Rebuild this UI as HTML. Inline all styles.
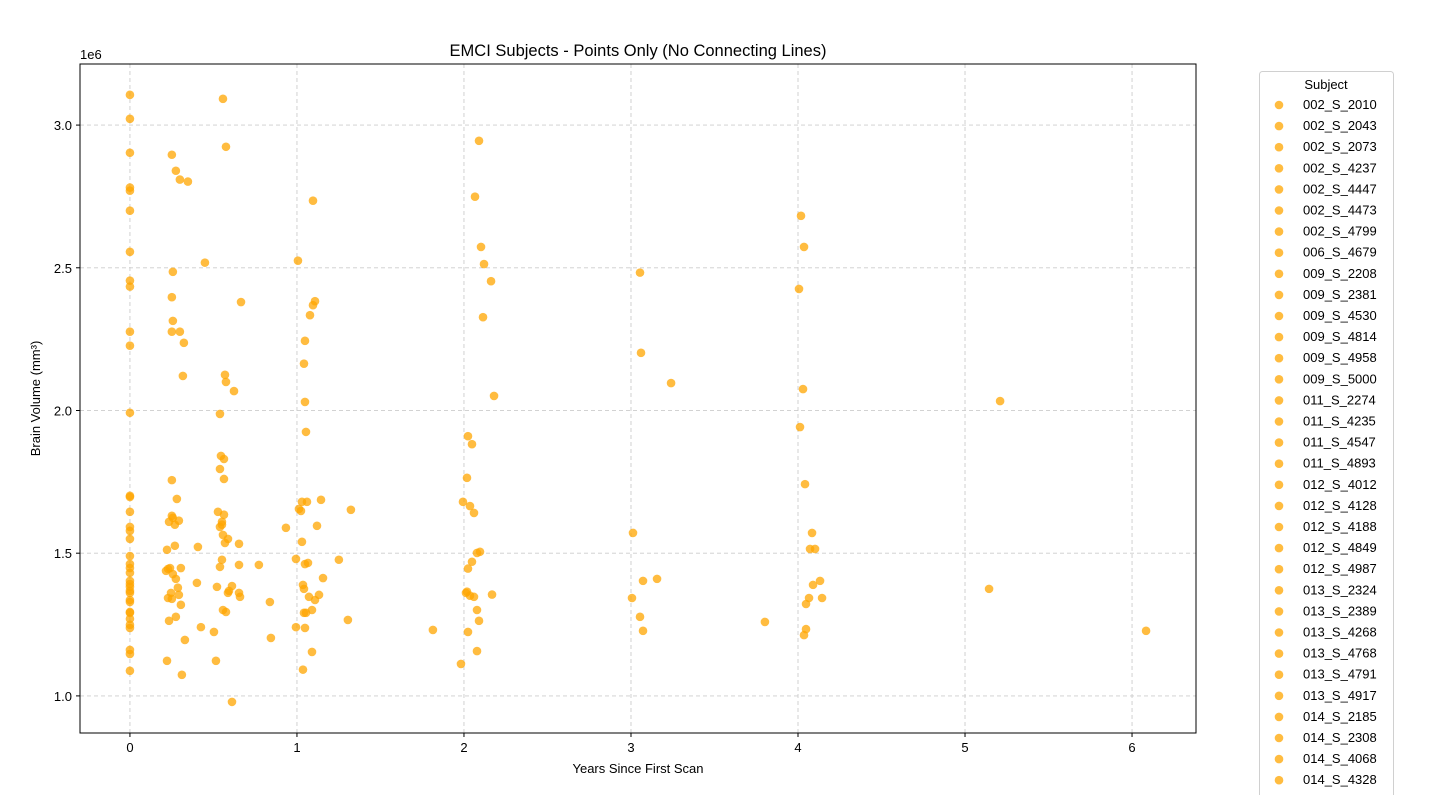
<!DOCTYPE html>
<html><head><meta charset="utf-8"><style>
html,body{margin:0;padding:0;background:#fff;}
svg{display:block;font-family:"Liberation Sans","DejaVu Sans",sans-serif;}
</style></head><body>
<svg id="chart" width="1440" height="795" viewBox="0 0 1440 795" xmlns="http://www.w3.org/2000/svg"></svg>
<script>
const xTicks=[0,1,2,3,4,5,6];
const yTicks=[1.0,1.5,2.0,2.5,3.0];
const yTickLabels=["1.0","1.5","2.0","2.5","3.0"];
const subjects=["002_S_2010","002_S_2043","002_S_2073","002_S_4237","002_S_4447","002_S_4473","002_S_4799","006_S_4679","009_S_2208","009_S_2381","009_S_4530","009_S_4814","009_S_4958","009_S_5000","011_S_2274","011_S_4235","011_S_4547","011_S_4893","012_S_4012","012_S_4128","012_S_4188","012_S_4849","012_S_4987","013_S_2324","013_S_2389","013_S_4268","013_S_4768","013_S_4791","013_S_4917","014_S_2185","014_S_2308","014_S_4068","014_S_4328"];
// baseline scans (years = 0), volume in 1e6 mm^3
const baseVol=[3.106,3.022,2.903,2.781,2.770,2.700,2.556,2.455,2.434,2.276,2.227,1.992,1.701,1.697,1.645,1.592,1.578,1.550,1.490,1.462,1.448,1.431,1.403,1.392,1.382,1.368,1.361,1.336,1.329,1.294,1.291,1.270,1.249,1.238,1.161,1.147,1.088];
// follow-up scans
const years=[0.557,0.575,0.251,0.275,0.299,0.347,1.096,0.449,1.006,0.257,0.251,0.665,1.108,1.096,1.078,0.257,0.251,0.299,0.323,1.048,1.042,0.317,0.569,0.575,0.623,1.048,0.539,1.054,
0.545,0.563,0.539,0.563,0.251,0.281,1.030,1.060,1.144,1.323,1.012,1.024,0.527,0.563,0.251,0.257,0.293,0.234,0.269,0.551,0.551,0.539,0.934,1.120,0.557,0.587,0.569,0.653,1.030,0.269,0.222,0.407,
0.994,1.251,1.048,1.066,0.551,0.539,0.653,0.772,0.216,0.240,0.228,0.305,0.257,0.275,1.156,0.401,0.521,0.611,1.036,1.042,0.287,0.593,0.653,0.659,0.587,0.246,0.293,0.228,0.251,1.072,1.132,1.108,0.838,0.305,
1.090,1.042,1.054,0.557,0.575,0.275,0.234,1.305,0.994,1.048,0.425,0.503,0.844,0.329,1.090,0.222,0.515,1.036,0.311,0.611,
2.090,2.066,2.102,2.120,2.162,2.114,2.180,2.024,2.048,2.018,1.994,2.036,2.060,2.096,2.078,2.048,2.024,2.168,2.018,2.012,2.036,2.060,2.078,2.090,1.814,2.024,2.078,1.982,
3.054,3.060,3.240,3.012,3.072,3.156,3.006,3.054,3.072,3.802,
4.018,4.036,4.006,4.030,4.012,4.042,4.084,4.072,4.102,4.132,4.090,4.066,4.144,4.048,4.048,4.036,
5.210,5.144,6.084];
const volumes=[3.092,2.924,2.896,2.840,2.809,2.802,2.735,2.518,2.525,2.486,2.397,2.380,2.383,2.369,2.334,2.314,2.276,2.276,2.237,2.244,2.164,2.121,2.125,2.100,2.068,2.030,1.988,1.925,
1.841,1.830,1.795,1.760,1.756,1.690,1.680,1.680,1.687,1.652,1.655,1.648,1.645,1.635,1.631,1.624,1.614,1.610,1.600,1.610,1.600,1.592,1.589,1.596,1.564,1.550,1.536,1.533,1.540,1.526,1.512,1.522,
1.480,1.477,1.462,1.466,1.477,1.452,1.459,1.459,1.438,1.448,1.445,1.448,1.427,1.410,1.413,1.396,1.382,1.385,1.389,1.375,1.379,1.368,1.361,1.347,1.361,1.361,1.354,1.343,1.340,1.347,1.354,1.336,1.329,1.319,
1.301,1.291,1.291,1.301,1.294,1.277,1.263,1.266,1.241,1.238,1.241,1.224,1.203,1.196,1.154,1.123,1.123,1.092,1.074,0.979,
2.945,2.749,2.573,2.513,2.453,2.327,2.051,1.910,1.882,1.764,1.680,1.665,1.641,1.505,1.501,1.470,1.446,1.355,1.365,1.361,1.351,1.347,1.301,1.263,1.231,1.224,1.157,1.112,
2.483,2.202,2.096,1.571,1.403,1.410,1.343,1.277,1.228,1.259,
2.682,2.573,2.426,2.075,1.942,1.742,1.571,1.515,1.515,1.403,1.389,1.343,1.343,1.322,1.234,1.213,
2.033,1.375,1.228];

const NS="http://www.w3.org/2000/svg";
const svg=document.getElementById('chart');
const L=80,R=1196,T=64,B=733;
const xMin=-0.299,xMax=6.383,yMin=0.870,yMax=3.214;
function xs(v){return L+(v-xMin)/(xMax-xMin)*(R-L);}
function ys(v){return B-(v-yMin)/(yMax-yMin)*(B-T);}
function mk(tag,attrs,parent){const e=document.createElementNS(NS,tag);for(const k in attrs)e.setAttribute(k,attrs[k]);(parent||svg).appendChild(e);return e;}

const grid=mk('g',{});


xTicks.forEach(t=>{const l=mk('line',{x1:xs(t),x2:xs(t),y1:T,y2:B,stroke:'#cccccc','stroke-dasharray':'4,3','stroke-width':0.9},grid);

});
yTicks.forEach(t=>{const l=mk('line',{x1:L,x2:R,y1:ys(t),y2:ys(t),stroke:'#cccccc','stroke-dasharray':'4,3','stroke-width':0.9},grid);

});

const pts=mk('g',{});


baseVol.forEach(v=>{const c=mk('circle',{cx:xs(0),cy:ys(v),r:4.3,fill:'#FFA500','fill-opacity':0.75},pts);

});
years.forEach((yr,i)=>{const c=mk('circle',{cx:xs(yr),cy:ys(volumes[i]),r:4.3,fill:'#FFA500','fill-opacity':0.75},pts);

});

const frame=mk('rect',{x:L,y:T,width:R-L,height:B-T,fill:'none',stroke:'#000','stroke-width':1});



xTicks.forEach(t=>{mk('line',{x1:xs(t),x2:xs(t),y1:B,y2:B+4,stroke:'#000'});
const tx=mk('text',{x:xs(t),y:B+19,'font-size':13,'text-anchor':'middle',fill:'#000'});tx.textContent=String(t);

});
yTicks.forEach((t,i)=>{mk('line',{x1:L-4,x2:L,y1:ys(t),y2:ys(t),stroke:'#000'});
const tx=mk('text',{x:L-8,y:ys(t)+5,'font-size':13,'text-anchor':'end',fill:'#000'});tx.textContent=yTickLabels[i];

});

const off=mk('text',{x:L,y:T-5,'font-size':13,fill:'#000'});off.textContent='1e6';


const title=mk('text',{x:(L+R)/2,y:56,'font-size':16.5,'text-anchor':'middle',fill:'#000'});title.textContent='EMCI Subjects - Points Only (No Connecting Lines)';


const xl=mk('text',{x:(L+R)/2,y:773,'font-size':13,'text-anchor':'middle',fill:'#000'});xl.textContent='Years Since First Scan';


const yl=mk('text',{x:0,y:0,'font-size':13,'text-anchor':'middle',fill:'#000',transform:'translate(40,'+((T+B)/2)+') rotate(-90)'});yl.textContent='Brain Volume (mm³)';



const lg=mk('g',{});


mk('rect',{x:1259.5,y:71.5,width:134,height:760,rx:3,fill:'#fff',stroke:'#d0d0d0'},lg);
const lt=mk('text',{x:1326,y:89,'font-size':13,'text-anchor':'middle',fill:'#000'},lg);lt.textContent='Subject';


subjects.forEach((s,i)=>{const y=104+i*21.1;
const g=mk('g',{},lg);


mk('circle',{cx:1279,cy:y+1,r:4.3,fill:'#FFA500','fill-opacity':0.75},g);
const t=mk('text',{x:1303,y:y+5,'font-size':13,fill:'#000'},g);t.textContent=s;});
</script>
</body></html>
